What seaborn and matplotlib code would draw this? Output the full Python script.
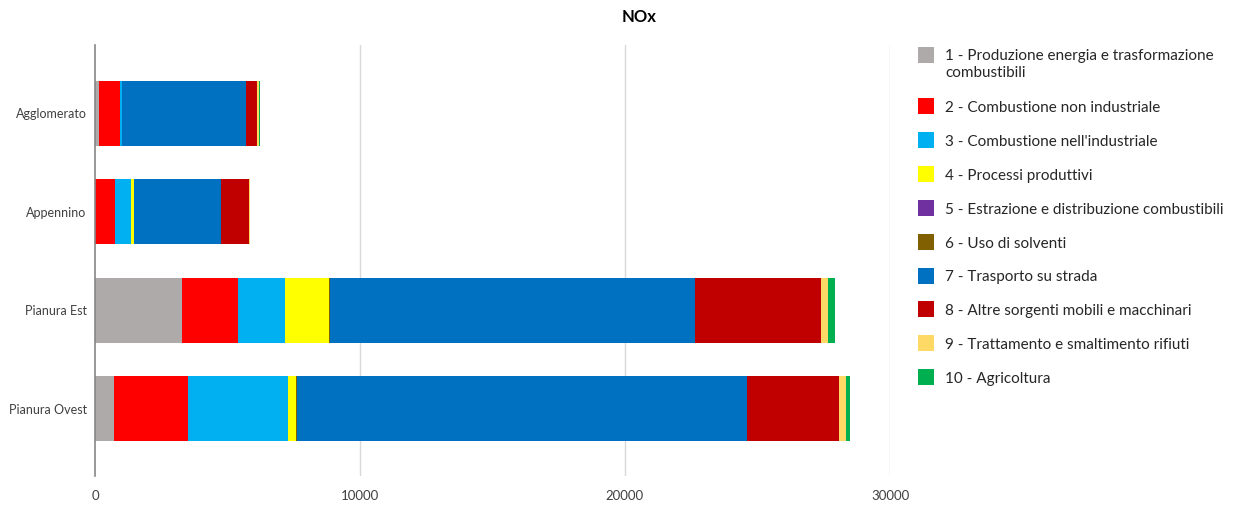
import matplotlib
matplotlib.use("Agg")
import matplotlib.pyplot as plt
from matplotlib.patches import Rectangle
import seaborn as sns
import pandas as pd
import numpy as np

areas = ["Agglomerato", "Appennino", "Pianura Est", "Pianura Ovest"]
sectors = [
    "1 - Produzione energia e trasformazione\ncombustibili",
    "2 - Combustione non industriale",
    "3 - Combustione nell'industriale",
    "4 - Processi produttivi",
    "5 - Estrazione e distribuzione combustibili",
    "6 - Uso di solventi",
    "7 - Trasporto su strada",
    "8 - Altre sorgenti mobili e macchinari",
    "9 - Trattamento e smaltimento rifiuti",
    "10 - Agricoltura",
]
s1 = [150, 10, 3280, 715]
s2 = [785, 730, 2110, 2780]
s3 = [95, 620, 1780, 3775]
s4 = [5, 100, 1645, 316]
s5 = [0, 0, 0, 0]
s6 = [0, 5, 35, 40]
s7 = [4650, 3300, 13780, 16990]
s8 = [417, 1035, 4765, 3476]
s9 = [100, 60, 250, 250]
s10 = [10, 0, 265, 150]
series = [s1, s2, s3, s4, s5, s6, s7, s8, s9, s10]
colors = ["#AEAAAA", "#FF0000", "#00B0F0", "#FFFF00", "#7030A0",
          "#806000", "#0070C0", "#C00000", "#FFD966", "#00B050"]
xticks = [0, 10000, 20000, 30000]

sns.set_theme(style="white")
plt.rcParams["font.family"] = ["Lato", "DejaVu Sans"]

W, H = 1237, 505
fig = plt.figure(figsize=(W / 100, H / 100), dpi=100)
ax = fig.add_axes([95 / W, 1 - 476 / H, (890 - 95) / W, (476 - 45) / H])

cum = np.cumsum(np.array(series, dtype=float), axis=0)
for i in range(len(series) - 1, -1, -1):
    df = pd.DataFrame({"area": areas, "value": cum[i]})
    sns.barplot(data=df, y="area", x="value", orient="h", color=colors[i],
                width=0.66, linewidth=0, edgecolor="none", saturation=1,
                ax=ax, zorder=3)

ax.set_xlim(0, 30000)
ax.set_ylim(3.68, -0.69)
ax.set_xticks(xticks)
ax.set_xticklabels([str(t) for t in xticks], fontsize=9.5, color="#404040")
ax.tick_params(axis="y", labelsize=9, labelcolor="#404040", length=0, pad=6)
ax.tick_params(axis="x", length=0, pad=10)
ax.set_xlabel("")
ax.set_ylabel("")
for t in xticks[1:]:
    ax.axvline(t, color="#D9D9D9", lw=1, zorder=1)
for s in ["top", "right", "bottom"]:
    ax.spines[s].set_visible(False)
ax.spines["left"].set_color("#868686")
ax.spines["left"].set_linewidth(1.2)
ax.spines["left"].set_zorder(5)

fig.text(639 / W, 1 - 17 / H, "NOx", ha="center", va="center",
         fontsize=12, fontweight="bold", color="#000000")

# legend (manual, to keep the swatch aligned with the first text line)
row_y = [55] + [106 + k * 33.9 for k in range(len(sectors) - 1)]
for lab, c, yc in zip(sectors, colors, row_y):
    fig.patches.append(Rectangle((918 / W, 1 - (yc + 8) / H), 16 / W, 16 / H,
                                 transform=fig.transFigure, facecolor=c,
                                 edgecolor="none"))
    if "\n" in lab:
        fig.text(945 / W, 1 - (yc - 6) / H, lab, ha="left", va="top",
                 fontsize=11, color="#262626", linespacing=1.3)
    else:
        fig.text(945 / W, 1 - (yc + 2) / H, lab, ha="left", va="center",
                 fontsize=11, color="#262626")

fig.savefig("out.png", dpi=100)
